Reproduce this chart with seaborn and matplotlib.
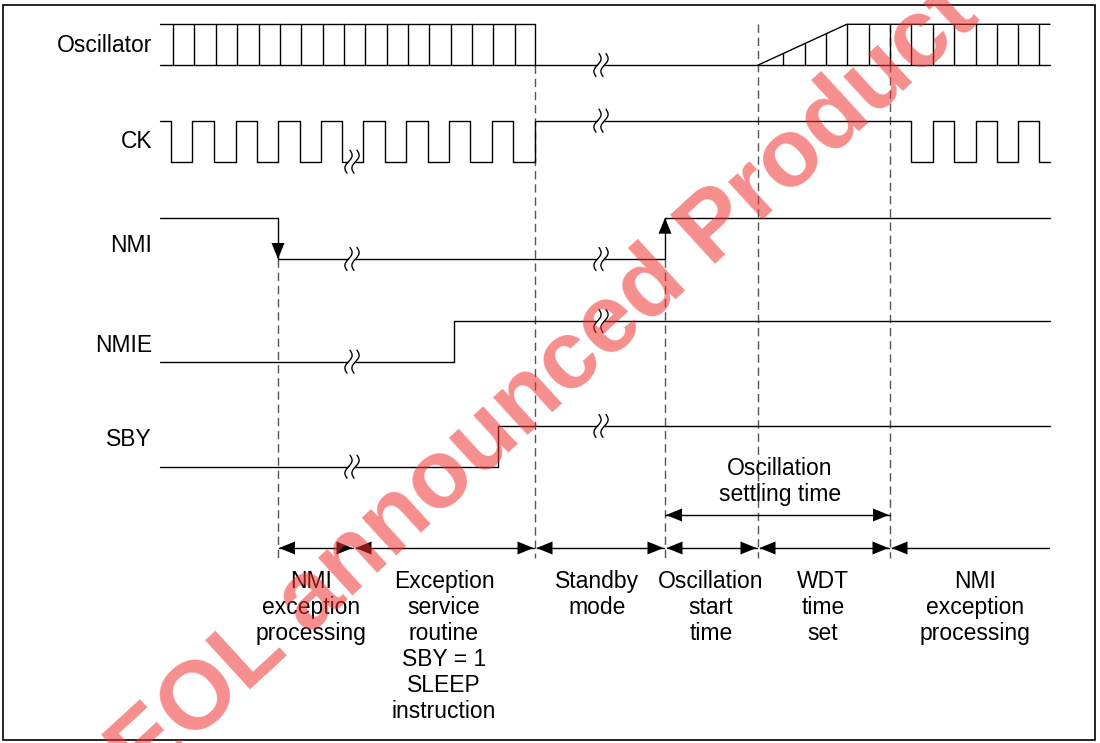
import numpy as np
import pandas as pd
import matplotlib
matplotlib.use("Agg")
import matplotlib.pyplot as plt
import seaborn as sns
from matplotlib.patches import Rectangle

# ---- signal names and timing (time axis = horizontal picture units) ----
SIGNALS = ['Oscillator', 'CK', 'NMI', 'NMIE', 'SBY']

T_START = 160
T_END = 1050

# oscillator cycle marks while running, then stop / restart
OSC_MARKS_RUN = [172.7, 194.3, 216.0, 237.3, 258.7, 280.0, 301.3, 322.7, 344.0,
                 365.3, 386.7, 408.0, 429.3, 450.7, 472.0, 493.3, 514.7, 535.0]
OSC_STOP = 535.0
OSC_RAMP = [758.3, 846.7]          # start-up ramp (start, full amplitude)
OSC_MARKS_RAMP = [783.3, 804.7, 826.0]
OSC_MARKS_RESTART = [846.7, 868.7, 890.0, 911.3, 932.7, 954.0, 975.7,
                     996.7, 1018.0, 1039.3]

# CK edges (starts high)
CK_EDGES = [170.7, 192.3, 214.3, 235.7, 257.0, 278.3, 299.7, 321.0, 342.3,
            363.3, 385.0, 406.3, 427.7, 449.0, 470.3, 491.7, 513.3, 535.0,
            911.3, 932.7, 954.0, 975.7, 996.7, 1018.0, 1039.3]
NMI_EDGES = [278.0, 665.0]      # starts high
NMIE_EDGES = [453.5]            # starts low
SBY_EDGES = [498.0]             # starts low

# time breaks (≀≀) per signal: (signal, time)
BREAKS = [('Oscillator', 601), ('CK', 352), ('CK', 601), ('NMI', 352), ('NMI', 601),
          ('NMIE', 352), ('NMIE', 601), ('SBY', 352), ('SBY', 601)]

# dashed reference lines
MARKERS = [278.0, 535.0, 665.0, 758.3, 890.0]

# phases along the bottom
PHASE_BOUNDS = [279, 354, 535, 665, 758, 890, 1050]
PHASE_LABELS = ['NMI\nexception\nprocessing',
                'Exception\nservice\nroutine\nSBY = 1\nSLEEP\ninstruction',
                'Standby\nmode',
                'Oscillation\nstart\ntime',
                'WDT\ntime\nset',
                'NMI\nexception\nprocessing']
PHASE_LABEL_X = [311, 444, 597, 711, 823, 975]
SETTLING = [665, 890]
SETTLING_LABEL = 'Oscillation\nsettling time'

# layout (picture pixels)
LEVELS = {'Oscillator': (24.3, 65.0), 'CK': (120.7, 161.7), 'NMI': (217.7, 259.0),
          'NMIE': (321.0, 361.7), 'SBY': (426.0, 466.7)}
LABEL_Y = {'Oscillator': 46, 'CK': 142, 'NMI': 245, 'NMIE': 345, 'SBY': 440}

sns.set_theme(style="white")
plt.rcParams['font.family'] = ['Liberation Sans', 'DejaVu Sans']

fig = plt.figure(figsize=(11, 7.43), dpi=100)
ax = fig.add_axes([0, 0, 1, 1])


def step_wave(edges, start_high, hi, lo):
    """turn edge times into a step polyline"""
    xs, ys = [T_START], [hi if start_high else lo]
    level = start_high
    for e in edges:
        xs += [e, e]
        ys += [hi if level else lo, lo if level else hi]
        level = not level
    xs.append(T_END)
    ys.append(hi if level else lo)
    return xs, ys


rows = []


def add(seg, xs, ys):
    for x, y in zip(xs, ys):
        rows.append({'seg': seg, 't': x, 'y': y})


# oscillator
hi, lo = LEVELS['Oscillator']
add('osc_bottom', [T_START, T_END], [lo, lo])
add('osc_top1', [T_START, OSC_STOP, OSC_STOP], [hi, hi, lo])
add('osc_ramp', [OSC_RAMP[0], OSC_RAMP[1], T_END], [lo, hi, hi])
for i, m in enumerate(OSC_MARKS_RUN[:-1]):
    add(f'osc_m{i}', [m, m], [hi, lo])
for i, m in enumerate(OSC_MARKS_RAMP):
    top = lo - (lo - hi) * (m - OSC_RAMP[0]) / (OSC_RAMP[1] - OSC_RAMP[0])
    add(f'osc_r{i}', [m, m], [top, lo])
for i, m in enumerate(OSC_MARKS_RESTART):
    add(f'osc_s{i}', [m, m], [hi, lo])

for name, edges, start_high in [('CK', CK_EDGES, True), ('NMI', NMI_EDGES, True),
                                ('NMIE', NMIE_EDGES, False), ('SBY', SBY_EDGES, False)]:
    hi, lo = LEVELS[name]
    xs, ys = step_wave(edges, start_high, hi, lo)
    add(name, xs, ys)

waves = pd.DataFrame(rows)

# dashed markers first, so signals sit on top
nmi_hi, nmi_lo = LEVELS['NMI']
for m in MARKERS:
    if m in (278.0, 665.0):
        top = nmi_lo
    elif m == OSC_STOP:
        top = LEVELS['Oscillator'][1]
    else:
        top = LEVELS['Oscillator'][0]
    ax.plot([m, m], [top, 558], color='#555555', lw=1.0, dashes=(6, 3.5), zorder=1)

sns.lineplot(data=waves, x='t', y='y', units='seg', estimator=None, sort=False,
             color='black', lw=1.0, ax=ax, zorder=3, legend=False)

# break marks
for name, t in BREAKS:
    hi, lo = LEVELS[name]
    # break sits on whichever level the signal has at time t
    y = lo
    if name == 'CK' and t > OSC_STOP:
        y = hi
    if name in ('NMIE', 'SBY') and t > 500:
        y = hi
    tt = np.linspace(-1, 1, 40)
    yy = y + 11.5 * tt
    xl = t - 3.5 - 2.8 * np.sin(np.pi * tt) - 1.5 * tt
    xr = t + 3.5 - 2.8 * np.sin(np.pi * tt) - 1.5 * tt
    ax.fill_betweenx(yy, xl, xr, color='white', zorder=4, lw=0)
    ax.plot(xl, yy, color='black', lw=1.0, zorder=5)
    ax.plot(xr, yy, color='black', lw=1.0, zorder=5)


def head(x, y, direction, L=16, W=6.5):
    """filled arrow head with tip at (x, y)"""
    if direction == 'left':
        pts = [(x, y), (x + L, y - W), (x + L, y + W)]
    elif direction == 'right':
        pts = [(x, y), (x - L, y - W), (x - L, y + W)]
    elif direction == 'up':
        pts = [(x, y), (x - W, y + L), (x + W, y + L)]
    else:
        pts = [(x, y), (x - W, y - L), (x + W, y - L)]
    px, py = zip(*pts)
    ax.fill(px, py, color='black', zorder=6, lw=0)


# NMI edge arrows
head(NMI_EDGES[0], nmi_lo, 'down')
head(NMI_EDGES[1], nmi_hi, 'up')

# phase arrows
ARROW_Y = 548
for i in range(len(PHASE_BOUNDS) - 1):
    a, b = PHASE_BOUNDS[i], PHASE_BOUNDS[i + 1]
    a_ = a + 1.5 if i > 0 else a
    ax.plot([a_, b - 1.5], [ARROW_Y, ARROW_Y], color='black', lw=1.0, zorder=5)
    head(a_, ARROW_Y, 'left')
    if i < len(PHASE_BOUNDS) - 2:
        head(b - 1.5, ARROW_Y, 'right')

SET_Y = 515
ax.plot(SETTLING, [SET_Y, SET_Y], color='black', lw=1.0, zorder=5)
head(SETTLING[0] + 1, SET_Y, 'left')
head(SETTLING[1] - 1, SET_Y, 'right')

# text
FS = 16.5
for name in SIGNALS:
    ax.text(152, LABEL_Y[name], name, ha='right', va='center', fontsize=FS, color='black')
for x, lab in zip(PHASE_LABEL_X, PHASE_LABELS):
    ax.text(x, 570, lab, ha='center', va='top', fontsize=FS, linespacing=1.17, color='black')
ax.text(780, 457, SETTLING_LABEL, ha='center', va='top', fontsize=FS, linespacing=1.17,
        color='black')

# frame
ax.add_patch(Rectangle((3, 4.5), 1092, 735.5, fill=False, ec='black', lw=1.2, zorder=7))

# watermark
ax.text(545, 385, 'EOL announced Product', rotation=42.5, rotation_mode='anchor',
        ha='center', va='center', fontsize=70, fontweight='bold', color='#f03030',
        alpha=0.55, zorder=10, clip_on=True)

ax.set_xlim(0, 1100)
ax.set_ylim(743, 0)
ax.axis('off')

fig.savefig('out.png', dpi=100)
